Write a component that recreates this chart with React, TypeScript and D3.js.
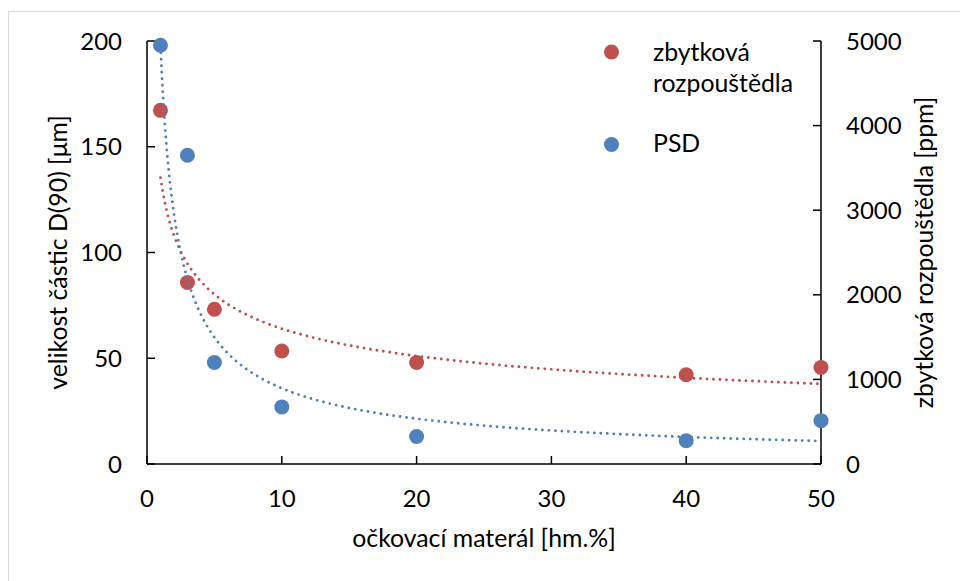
import React from "react";
import * as d3 from "d3";

const xValues = [1, 3, 5, 10, 20, 40, 50];
const psdValues = [198, 146, 48, 27, 13, 11, 20.5];
const solventValues = [4180, 2145, 1830, 1335, 1200, 1055, 1140];

const xTicks = [0, 10, 20, 30, 40, 50];
const leftTicks = [0, 50, 100, 150, 200];
const rightTicks = [0, 1000, 2000, 3000, 4000, 5000];

const xTitle = "očkovací materál [hm.%]";
const leftTitle = "velikost částic D(90) [μm]";
const rightTitle = "zbytková rozpouštědla [ppm]";
const legendSolvent = ["zbytková", "rozpouštědla"];
const legendPsd = "PSD";

const BLUE = "#4F81BD";
const RED = "#C0504D";
const FONT = "Lato, 'Open Sans', sans-serif";
const FS = 24.8;
const FS_TICK = 24;

// Power regression (least squares in log-log space), like a spreadsheet power trendline
function powerFit(xs: number[], ys: number[]) {
  const lx = xs.map(Math.log);
  const ly = ys.map(Math.log);
  const mx = d3.mean(lx) as number;
  const my = d3.mean(ly) as number;
  let sxy = 0;
  let sxx = 0;
  lx.forEach((v, i) => {
    sxy += (v - mx) * (ly[i] - my);
    sxx += (v - mx) * (v - mx);
  });
  const b = sxy / sxx;
  const a = Math.exp(my - b * mx);
  return (x: number) => a * Math.pow(x, b);
}

export default function App() {
  const x = d3.scaleLinear().domain([0, 50]).range([147, 821]);
  const yL = d3.scaleLinear().domain([0, 200]).range([464, 41]);
  const yR = d3.scaleLinear().domain([0, 5000]).range([464, 41]);

  const xMin = d3.min(xValues) as number;
  const xMax = d3.max(xValues) as number;
  const samples = d3.range(0, 301).map((i) => xMin + ((xMax - xMin) * i) / 300);

  const fitPsd = powerFit(xValues, psdValues);
  const fitSol = powerFit(xValues, solventValues);

  const linePsd = d3
    .line<number>()
    .x((d) => x(d))
    .y((d) => yL(fitPsd(d)))(samples) as string;
  const lineSol = d3
    .line<number>()
    .x((d) => x(d))
    .y((d) => yR(fitSol(d)))(samples) as string;

  const [y0, y1] = yL.range();
  const x0 = x.range()[0];
  const x1 = x.range()[1];
  const tickLen = 8;
  const axisStroke = "#000";
  const axisW = 1.5;

  return (
    <svg
      width={960}
      height={581}
      style={{ position: "absolute", left: 0, top: 0, background: "#fff" }}
      fontFamily={FONT}
    >
      <rect x={0} y={0} width={960} height={581} fill="#fff" />
      <rect x={8.5} y={11.5} width={980} height={600} fill="none" stroke="#d9d9d9" strokeWidth={1} />

      {/* axes */}
      <g stroke={axisStroke} strokeWidth={axisW} fill="none">
        <line x1={x0} y1={y1} x2={x0} y2={y0} />
        <line x1={x1} y1={y1} x2={x1} y2={y0} />
        <line x1={x0} y1={y0} x2={x1} y2={y0} />
        {leftTicks.map((t) => (
          <line key={"lt" + t} x1={x0} x2={x0 + tickLen} y1={yL(t)} y2={yL(t)} />
        ))}
        {rightTicks.map((t) => (
          <line key={"rt" + t} x1={x1 - tickLen} x2={x1} y1={yR(t)} y2={yR(t)} />
        ))}
        {xTicks.map((t) => (
          <line key={"xt" + t} x1={x(t)} x2={x(t)} y1={y0} y2={y0 - tickLen} />
        ))}
      </g>

      {/* tick labels */}
      <g fontSize={FS_TICK} fill="#000">
        {leftTicks.map((t) => (
          <text key={"ll" + t} x={122} y={yL(t) + 8.5} textAnchor="end">
            {t}
          </text>
        ))}
        {rightTicks.map((t) => (
          <text key={"rl" + t} x={846} y={yR(t) + 8.5} textAnchor="start">
            {t}
          </text>
        ))}
        {xTicks.map((t) => (
          <text key={"xl" + t} x={x(t)} y={507} textAnchor="middle">
            {t}
          </text>
        ))}
      </g>

      {/* axis titles */}
      <g fontSize={FS} fill="#000">
        <text x={(x0 + x1) / 2} y={547} textAnchor="middle">
          {xTitle}
        </text>
        <text transform={`translate(67,${(y0 + y1) / 2}) rotate(-90)`} textAnchor="middle">
          {leftTitle}
        </text>
        <text transform={`translate(933,${(y0 + y1) / 2}) rotate(-90)`} textAnchor="middle">
          {rightTitle}
        </text>
      </g>

      {/* residual solvent series */}
      <g>
        {xValues.map((xv, i) => (
          <circle key={"s" + i} cx={x(xv)} cy={yR(solventValues[i])} r={7.5} fill={RED} />
        ))}
        <path
          d={lineSol}
          fill="none"
          stroke={RED}
          strokeWidth={2.9}
          strokeLinecap="round"
          strokeDasharray="0 6.5"
        />
      </g>

      {/* PSD series */}
      <g>
        {xValues.map((xv, i) => (
          <circle key={"p" + i} cx={x(xv)} cy={yL(psdValues[i])} r={7.5} fill={BLUE} />
        ))}
        <path
          d={linePsd}
          fill="none"
          stroke={BLUE}
          strokeWidth={2.9}
          strokeLinecap="round"
          strokeDasharray="0 6.5"
        />
      </g>

      {/* legend */}
      <g fontSize={FS} fill="#000">
        <circle cx={611.5} cy={52} r={7.5} fill={RED} />
        <text x={653} y={61}>
          {legendSolvent[0]}
        </text>
        <text x={653} y={92}>
          {legendSolvent[1]}
        </text>
        <circle cx={611.5} cy={144.5} r={7.5} fill={BLUE} />
        <text x={653} y={152}>
          {legendPsd}
        </text>
      </g>
    </svg>
  );
}
